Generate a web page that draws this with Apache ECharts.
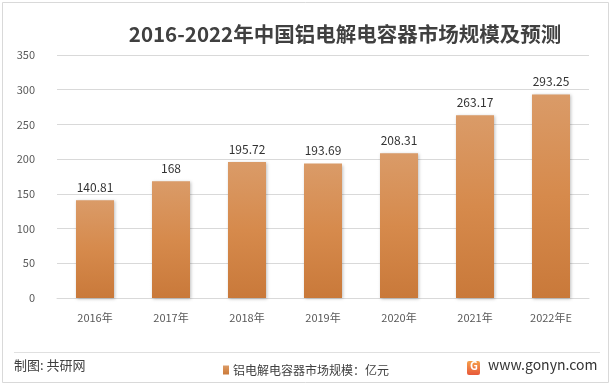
<!DOCTYPE html>
<html><head><meta charset="utf-8">
<script src="https://cdn.jsdelivr.net/npm/echarts@6/dist/echarts.min.js"></script>
<style>html,body{margin:0;padding:0;background:#fff}#c{width:612px;height:387px}</style>
</head><body><div id="c"></div>
<script>
const categories = ['2016年','2017年','2018年','2019年','2020年','2021年','2022年E'];
const values = [140.81, 168, 195.72, 193.69, 208.31, 263.17, 293.25];
const seriesName = '铝电解电容器市场规模：亿元';
const titleText = '2016-2022年中国铝电解电容器市场规模及预测';
const FONT = '"Noto Sans CJK SC", "Noto Sans", sans-serif';

const chart = echarts.init(document.getElementById('c'), null, {renderer:'canvas'});
chart.setOption({
  backgroundColor:'#fff',
  animation:false,
  title:{text:titleText, left:340, top:19, textAlign:'center',
    textStyle:{fontFamily:FONT, fontSize:20.5, fontWeight:'bold', color:'#404040'}},
  grid:{left:57, right:23, top:55, bottom:89, containLabel:false},
  legend:{show:true, left:218, top:359, itemWidth:6, itemHeight:9, itemGap:4,
    icon:'rect',
    textStyle:{fontFamily:FONT, fontSize:12, color:'#404040', padding:[0,0,0,-1]},
    data:[seriesName]},
  xAxis:{type:'category', data:categories,
    axisLine:{lineStyle:{color:'#d9d9d9'}}, axisTick:{show:false},
    axisLabel:{fontFamily:FONT, fontSize:11, color:'#595959', margin:14}},
  yAxis:{type:'value', min:0, max:350, interval:50,
    axisLine:{show:false}, axisTick:{show:false},
    splitLine:{lineStyle:{color:'#d9d9d9'}},
    axisLabel:{fontFamily:FONT, fontSize:11, color:'#595959', margin:22}},
  series:[{name:seriesName, type:'bar', data:values, barWidth:'50%',
    itemStyle:{color:new echarts.graphic.LinearGradient(0,0,0,1,[
      {offset:0,color:'#DA9B68'},{offset:0.5,color:'#D68A4C'},{offset:1,color:'#C9793A'}]),
      shadowColor:'rgba(0,0,0,0.25)', shadowBlur:3, shadowOffsetX:1, shadowOffsetY:1},
    label:{show:true, position:'top', distance:7, fontFamily:FONT, fontSize:12, color:'#333333'}
  }],
  graphic:[
    {type:'rect', shape:{x:2.5,y:2.5,width:606,height:380}, style:{fill:'none', stroke:'#d9d9d9', lineWidth:1}, silent:true},
    {type:'line', shape:{x1:14,y1:352.5,x2:600,y2:352.5}, style:{stroke:'#e0e0e0', lineWidth:1}},
    {type:'text', left:14, top:359, style:{text:'制图: 共研网', font:'13px '+FONT, fill:'#404040'}},
    {type:'rect', shape:{x:467,y:361,width:13,height:14,r:2}, style:{fill:new echarts.graphic.LinearGradient(0,0,0,1,[{offset:0,color:'#F5A04A'},{offset:1,color:'#E8583A'}])}},
    {type:'text', left:470, top:360, style:{text:'G', font:'bold 11px '+FONT, fill:'#fff'}},
    {type:'text', left:488, top:358, style:{text:'www.gonyn.com', font:'14px '+FONT, fill:'#333'}}
  ]
});
</script></body></html>
